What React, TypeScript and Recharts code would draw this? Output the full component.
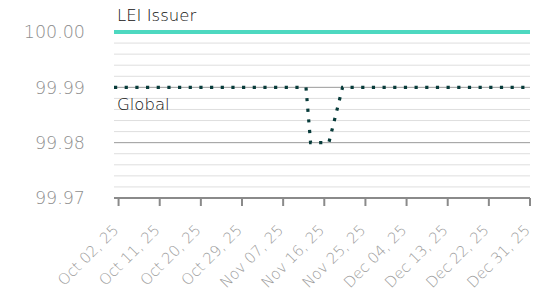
import React from "react";
import { LineChart, Line, XAxis, YAxis, ReferenceLine } from "recharts";

// dates are kept as ISO strings, plotted as day offsets from Oct 01, 2025
const startDate = "2025-10-01";
const endDate = "2025-12-31";

const xTickDates = [
  "2025-10-02", "2025-10-11", "2025-10-20", "2025-10-29", "2025-11-07", "2025-11-16",
  "2025-11-25", "2025-12-04", "2025-12-13", "2025-12-22", "2025-12-31",
];
const xTickLabels = [
  "Oct 02, 25", "Oct 11, 25", "Oct 20, 25", "Oct 29, 25", "Nov 07, 25", "Nov 16, 25",
  "Nov 25, 25", "Dec 04, 25", "Dec 13, 25", "Dec 22, 25", "Dec 31, 25",
];

const yTicks = [99.97, 99.98, 99.99, 100.0];
const yMajorGrid = [99.98, 99.99];
const yMinorGrid = [
  99.972, 99.974, 99.976, 99.978,
  99.982, 99.984, 99.986, 99.988,
  99.992, 99.994, 99.996, 99.998,
];

const leiDates = ["2025-10-01", "2025-12-31"];
const leiValues = [100.0, 100.0];

const globalDates = ["2025-10-01", "2025-11-12", "2025-11-13", "2025-11-17", "2025-11-20", "2025-12-31"];
const globalValues = [99.99, 99.99, 99.98, 99.98, 99.99, 99.99];

const DAY = 86400000;
const toDay = (s: string) => (Date.parse(s) - Date.parse(startDate)) / DAY;

const leiData = leiDates.map((d, i) => ({ x: toDay(d), v: leiValues[i] }));
const globalData = globalDates.map((d, i) => ({ x: toDay(d), v: globalValues[i] }));
const xTicks = xTickDates.map(toDay);

const FONT = "'DejaVu Sans', sans-serif";

const XTick = (props: any) => {
  const { x, y, payload } = props;
  const idx = xTicks.indexOf(payload.value);
  const px = x + 1;
  const py = y + 23;
  return (
    <text
      x={px}
      y={py}
      transform={`rotate(-45, ${px}, ${py})`}
      textAnchor="end"
      fill="#9c9c9c"
      fontSize={15}
      fontWeight={200}
      fontFamily={FONT}
    >
      {xTickLabels[idx]}
    </text>
  );
};

const seriesLabel = (text: string, dy: number) => (props: any) => {
  if (props.index !== 0) return null;
  return (
    <text x={props.x + 3} y={props.y + dy} fill="#111" fontSize={16.5} fontWeight={200} fontFamily={FONT}>
      {text}
    </text>
  );
};

export default function App() {
  return (
    <div style={{ position: "absolute", left: 0, top: 0 }}>
      <LineChart width={541} height={295} margin={{ top: 32, right: 11, left: 0, bottom: 0 }}>
        <XAxis
          type="number"
          dataKey="x"
          domain={[toDay(startDate), toDay(endDate)]}
          ticks={xTicks}
          interval={0}
          tick={<XTick />}
          height={97}
          axisLine={{ stroke: "#8a8a8a", strokeWidth: 2 }}
          tickLine={{ stroke: "#8a8a8a", strokeWidth: 2 }}
          tickSize={8}
        />
        <YAxis
          type="number"
          domain={[99.97, 100.0]}
          ticks={yTicks}
          width={114}
          axisLine={false}
          tickLine={false}
          tickSize={0}
          tickMargin={29}
          tickFormatter={(v: number) => v.toFixed(2)}
          tick={{ fill: "#8e8e8e", fontSize: 17.5, fontWeight: 200, fontFamily: FONT }}
        />
        {yMinorGrid.map((v) => (
          <ReferenceLine key={v} y={v} stroke="#dedede" strokeWidth={1} />
        ))}
        {yMajorGrid.map((v) => (
          <ReferenceLine key={v} y={v} stroke="#9a9a9a" strokeWidth={1} />
        ))}
        <Line
          data={leiData}
          dataKey="v"
          type="linear"
          stroke="#4dd8c0"
          strokeWidth={4}
          dot={false}
          isAnimationActive={false}
          label={seriesLabel("LEI Issuer", -11)}
        />
        <Line
          data={globalData}
          dataKey="v"
          type="linear"
          stroke="#073b3a"
          strokeWidth={3.2}
          strokeDasharray="3.2 7.47"
          dot={false}
          isAnimationActive={false}
          label={seriesLabel("Global", 23)}
        />
      </LineChart>
    </div>
  );
}
